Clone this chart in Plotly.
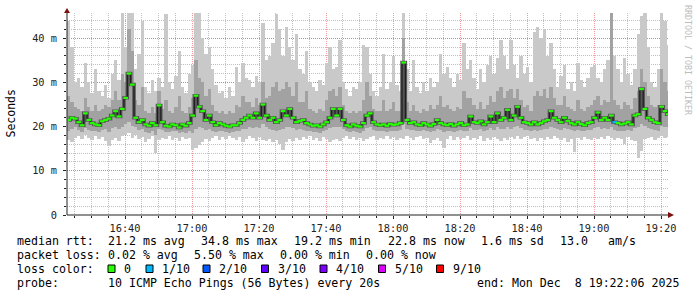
import plotly.graph_objects as go
import pandas as pd

# ---------------- data (1-minute steps) ----------------
STEP_START = "2025-12-08 16:23:11"          # centre of first step
X_RANGE = ["2025-12-08 16:22:41", "2025-12-08 19:22:05"]
Y_MAX = 45.7                                 # ms

med = [
    21.5, 22.0, 21.8, 21.0, 20.3, 23.0, 21.5, 20.8, 20.5, 20.3,
    21.2, 21.5, 21.8, 22.5, 23.5, 22.3, 24.0, 26.5, 32.0, 29.5,
    22.0, 21.0, 21.5, 20.5, 20.2, 20.8, 20.3, 24.8, 21.0, 20.2,
    20.0, 20.5, 20.3, 19.8, 20.5, 20.2, 20.8, 22.5, 27.0, 24.5,
    23.5, 21.5, 22.5, 21.0, 20.3, 20.8, 20.5, 20.2, 20.0, 20.3,
    20.3, 20.8, 21.5, 22.0, 22.5, 22.0, 23.0, 22.0, 25.0, 22.5,
    21.5, 22.0, 21.0, 21.5, 23.5, 22.5, 24.0, 22.0, 21.0, 21.3,
    21.5, 20.8, 20.5, 20.2, 20.3, 20.0, 20.5, 21.0, 22.0, 24.0,
    22.5, 24.0, 21.5, 20.3, 20.0, 20.5, 20.2, 20.0, 20.8, 22.5,
    23.0, 21.0, 20.5, 20.3, 20.5, 20.2, 20.6, 20.4, 20.5, 20.8,
    34.5, 21.5, 20.8, 21.0, 20.5, 20.3, 20.8, 20.5, 20.2, 20.6,
    21.5, 20.8, 20.5, 20.3, 20.6, 20.2, 20.5, 20.8, 20.3, 20.5,
    22.3, 21.0, 20.8, 21.2, 20.5, 21.0, 22.3, 21.0, 23.0, 21.5,
    22.0, 23.8, 21.5, 22.5, 24.5, 22.0, 21.0, 20.8, 20.5, 21.0,
    20.5, 20.8, 21.2, 21.5, 23.5, 22.0, 21.5, 21.0, 22.0, 21.3,
    20.8, 20.5, 21.0, 20.6, 20.3, 20.8, 21.0, 22.0, 23.2, 21.5,
    22.0, 21.5, 22.5, 21.0, 20.8, 20.5, 20.7, 21.0, 20.5, 22.5,
    22.8, 28.5, 24.0, 22.0, 21.5, 21.0, 20.8, 24.5, 23.5, 22.8,
]
hi = [
    44.0, 38.0, 30.0, 31.0, 29.0, 34.5, 30.0, 27.5, 33.0, 28.0,
    27.0, 29.5, 26.5, 32.0, 35.0, 30.5, 46.0, 38.0, 46.0, 46.0,
    33.0, 36.5, 44.0, 29.0, 27.5, 30.5, 28.0, 31.0, 29.0, 45.5,
    30.0, 28.5, 31.5, 37.0, 29.0, 27.5, 32.0, 34.0, 46.0, 46.0,
    40.0, 36.5, 38.0, 33.0, 29.5, 27.5, 28.0, 26.5, 29.0, 27.0,
    33.5, 30.0, 34.5, 31.0, 30.5, 29.0, 31.5, 30.0, 43.5, 35.0,
    36.0, 39.0, 45.5, 42.0, 36.0, 42.5, 38.0, 35.0, 41.0, 33.0,
    32.0, 37.0, 30.0, 29.0, 28.0, 30.5, 29.5, 34.5, 38.0, 33.0,
    33.5, 39.5, 30.0, 28.5, 27.0, 29.0, 28.5, 30.0, 38.5, 38.0,
    32.0, 28.0, 27.0, 29.0, 36.5, 28.5, 30.0, 36.0, 29.5, 28.0,
    46.0, 33.0, 28.0, 35.0, 29.0, 27.5, 30.0, 28.0, 31.0, 29.0,
    30.0, 36.5, 32.0, 33.5, 31.0, 29.0, 32.0, 30.5, 39.0, 33.0,
    35.0, 31.0, 28.5, 33.0, 30.0, 34.0, 36.0, 32.0, 35.5, 39.5,
    36.0, 33.0, 39.5, 34.0, 31.0, 36.0, 32.0, 33.5, 30.0, 41.5,
    42.5, 40.0, 42.0, 36.0, 39.0, 33.0, 29.0, 31.5, 34.0, 28.5,
    30.0, 28.0, 34.5, 30.5, 29.0, 31.0, 33.5, 34.0, 31.0, 30.0,
    33.0, 35.0, 46.0, 36.0, 33.0, 30.0, 35.5, 32.0, 29.5, 33.0,
    41.0, 45.0, 46.0, 38.0, 30.0, 29.0, 33.0, 46.0, 44.0, 38.5,
]
mhi = [
    27.0, 25.5, 24.5, 24.0, 23.5, 26.5, 24.5, 23.5, 25.0, 23.5,
    24.0, 25.0, 24.5, 26.0, 28.0, 26.0, 32.0, 30.0, 42.0, 37.0,
    26.0, 25.0, 29.0, 23.5, 23.0, 24.5, 23.0, 28.0, 24.0, 26.0,
    23.5, 23.0, 24.5, 27.0, 23.5, 23.0, 24.5, 26.5, 35.0, 31.0,
    30.0, 27.0, 28.5, 25.0, 23.5, 23.0, 23.5, 22.8, 23.5, 23.0,
    25.0, 24.5, 27.0, 25.5, 25.5, 24.5, 26.5, 25.0, 30.0, 26.5,
    27.0, 29.0, 30.0, 28.0, 28.5, 30.0, 29.0, 27.0, 30.0, 25.5,
    25.5, 28.0, 24.0, 23.5, 23.0, 24.0, 23.5, 26.0, 28.0, 28.5,
    27.0, 29.0, 25.0, 23.5, 23.0, 23.5, 23.0, 23.5, 26.0, 30.0,
    27.0, 24.0, 23.5, 23.5, 26.0, 23.5, 24.0, 25.5, 23.5, 23.5,
    40.0, 25.5, 23.5, 25.0, 23.5, 23.0, 24.0, 23.5, 25.0, 24.0,
    25.0, 27.0, 24.5, 25.0, 24.0, 23.5, 24.5, 24.0, 28.0, 26.5,
    26.5, 25.0, 24.0, 25.5, 24.0, 25.0, 27.0, 25.5, 28.0, 29.0,
    26.5, 28.0, 28.5, 26.5, 28.5, 26.0, 24.5, 25.0, 23.5, 27.0,
    28.0, 27.0, 28.5, 26.5, 29.0, 26.5, 25.0, 25.0, 27.0, 24.5,
    24.0, 23.5, 26.0, 24.0, 23.5, 24.5, 25.0, 26.0, 27.0, 25.0,
    26.0, 25.5, 46.0, 26.0, 25.0, 24.0, 25.5, 25.0, 24.0, 26.5,
    28.0, 33.0, 30.0, 27.0, 25.0, 24.5, 25.0, 33.0, 30.0, 28.0,
]
mlo = [
    19.0, 19.5, 19.8, 19.2, 18.8, 19.6, 19.3, 18.9, 19.0, 18.7,
    19.2, 19.4, 18.8, 19.6, 19.8, 19.4, 20.0, 20.5, 21.0, 20.2,
    19.8, 19.2, 19.5, 18.8, 18.6, 19.0, 18.0, 19.5, 19.2, 18.8,
    18.7, 18.9, 19.0, 18.5, 18.8, 18.6, 19.0, 18.5, 19.5, 19.8,
    19.6, 19.2, 19.5, 19.0, 18.8, 19.0, 18.9, 18.7, 18.6, 18.8,
    18.9, 19.1, 19.4, 19.5, 19.8, 19.6, 20.0, 19.6, 20.5, 19.8,
    19.5, 19.3, 19.0, 19.2, 19.5, 19.8, 20.0, 19.6, 19.2, 19.4,
    19.3, 19.0, 18.9, 18.7, 18.8, 18.6, 18.9, 19.2, 19.6, 20.0,
    19.8, 20.0, 19.4, 18.9, 18.7, 18.9, 18.8, 18.6, 19.0, 19.6,
    19.8, 19.2, 19.0, 18.9, 19.0, 18.8, 19.0, 18.9, 19.0, 19.2,
    20.5, 19.4, 19.2, 19.3, 19.0, 18.9, 19.2, 19.0, 18.8, 19.1,
    19.4, 19.2, 18.8, 18.9, 19.0, 18.8, 19.0, 19.2, 18.9, 19.0,
    19.6, 19.3, 19.2, 19.4, 19.0, 19.3, 19.6, 19.3, 19.8, 19.4,
    19.5, 20.0, 19.5, 19.8, 20.2, 19.6, 19.3, 19.2, 19.0, 19.3,
    19.0, 19.2, 19.4, 19.5, 20.0, 19.6, 19.4, 19.3, 19.6, 19.4,
    19.2, 19.0, 19.3, 19.1, 18.9, 19.2, 19.3, 19.6, 19.8, 19.4,
    19.6, 19.4, 19.8, 19.2, 19.1, 18.9, 19.0, 19.2, 18.9, 19.6,
    19.8, 20.5, 20.2, 19.6, 19.4, 19.2, 19.1, 20.2, 20.0, 19.8,
]
lo = [
    17.0, 16.5, 17.5, 17.8, 17.2, 18.0, 17.5, 17.0, 17.8, 17.3,
    17.6, 16.8, 15.5, 17.0, 17.5, 16.8, 17.8, 18.0, 18.5, 17.5,
    18.0, 17.2, 17.6, 16.5, 17.3, 17.8, 14.0, 17.0, 17.5, 17.2,
    17.8, 17.0, 17.5, 16.8, 17.6, 17.2, 17.5, 14.8, 15.2, 15.8,
    16.5, 17.2, 16.8, 17.5, 17.8, 17.0, 17.6, 17.3, 17.8, 17.4,
    17.0, 17.6, 16.5, 17.2, 17.8, 17.5, 16.8, 17.6, 17.0, 16.8,
    17.3, 16.5, 17.0, 16.0, 14.8, 16.5, 17.2, 16.8, 17.5, 17.0,
    17.6, 17.2, 17.8, 17.0, 17.5, 16.8, 17.6, 17.2, 16.5, 17.0,
    17.3, 16.8, 17.5, 17.8, 17.2, 17.6, 17.0, 17.5, 16.8, 17.2,
    17.6, 17.8, 17.0, 17.5, 17.2, 17.8, 17.3, 17.6, 17.0, 17.5,
    17.2, 17.8, 17.4, 17.0, 17.6, 17.8, 17.2, 17.5, 16.2, 17.0,
    17.5, 16.8, 15.2, 17.3, 17.8, 17.0, 17.6, 17.2, 17.5, 17.8,
    17.0, 17.5, 17.2, 17.8, 16.8, 17.4, 17.0, 17.6, 17.3, 16.8,
    17.5, 17.0, 17.6, 17.2, 17.8, 17.3, 17.6, 17.8, 17.2, 17.5,
    16.8, 17.4, 17.0, 17.6, 17.2, 17.8, 17.4, 17.0, 17.5, 16.5,
    17.2, 14.2, 17.5, 17.0, 17.6, 17.3, 17.0, 17.5, 17.2, 17.6,
    17.3, 17.8, 17.4, 17.0, 17.5, 17.2, 16.0, 17.6, 17.0, 16.8,
    13.0, 14.5, 17.2, 17.5, 17.6, 17.0, 17.5, 17.8, 17.4, 17.6,
]
# lost pings (out of 10) per step
loss = [
    0, 0, 0, 0, 0, 0, 0, 0, 0, 0,
    0, 0, 0, 0, 0, 0, 0, 0, 0, 0,
    0, 0, 0, 0, 0, 0, 0, 0, 0, 0,
    0, 0, 0, 0, 0, 0, 0, 0, 0, 0,
    0, 0, 0, 0, 0, 0, 0, 0, 0, 0,
    0, 0, 0, 0, 0, 0, 0, 0, 0, 0,
    0, 0, 0, 0, 0, 0, 0, 0, 0, 0,
    0, 0, 0, 0, 0, 0, 0, 0, 0, 0,
    0, 0, 0, 0, 0, 0, 0, 0, 0, 0,
    0, 0, 0, 0, 0, 0, 0, 0, 0, 0,
    0, 0, 0, 0, 0, 0, 0, 0, 0, 0,
    0, 0, 0, 0, 0, 0, 0, 0, 0, 0,
    0, 0, 0, 0, 0, 0, 0, 0, 0, 0,
    0, 0, 0, 0, 0, 0, 0, 0, 0, 0,
    0, 0, 0, 0, 0, 0, 0, 0, 0, 0,
    0, 0, 0, 0, 0, 0, 0, 0, 0, 0,
    0, 0, 0, 1, 0, 0, 0, 0, 0, 0,
    0, 0, 0, 0, 0, 0, 0, 0, 0, 0,
]

y_tickvals = [0, 10, 20, 30, 40]
y_ticktext = ["0", "10 m", "20 m", "30 m", "40 m"]

loss_levels = [0, 1, 2, 3, 4, 5, 9]
loss_labels = ["0", "1/10", "2/10", "3/10", "4/10", "5/10", "9/10"]
loss_colors = ["#26ff00", "#00b8ff", "#0059ff", "#5e00ff", "#7e00ff", "#dd00ff", "#ff0000"]

rtt_stats = ["21.2 ms avg", "34.8 ms max", "19.2 ms min", "22.8 ms now", "1.6 ms sd", "13.0", "am/s"]
loss_stats = ["0.02 % avg", "5.50 % max", "0.00 % min", "0.00 % now"]
probe_text = "10 ICMP Echo Pings (56 Bytes) every 20s"
end_text = "end: Mon Dec  8 19:22:06 2025"

# ---------------- layout geometry (pixels) ----------------
W, H = 697, 297
L, R, T, B = 67, 668, 13, 215
MONO = "DejaVu Sans Mono"


def px(x):
    return (x - L) / (R - L)


def py(y):
    return (B - y) / (B - T)


times = pd.date_range(STEP_START, periods=len(med), freq="1min")
color_of = dict(zip(loss_levels, loss_colors))
med_colors = [color_of[v] for v in loss]

fig = go.Figure()
fig.add_trace(go.Bar(x=times, base=lo, y=[h - l for h, l in zip(hi, lo)],
                     width=60000, marker=dict(color="#c9c9c9", line=dict(width=0)),
                     hoverinfo="skip"))
fig.add_trace(go.Bar(x=times, base=mlo, y=[h - l for h, l in zip(mhi, mlo)],
                     width=60000, marker=dict(color="#a2a2a2", line=dict(width=0)),
                     hoverinfo="skip"))
fig.add_trace(go.Scatter(x=times, y=med, mode="lines",
                         line=dict(color="#555555", width=3.5, shape="hvh"),
                         hoverinfo="skip"))
fig.add_trace(go.Scatter(x=times, y=med, mode="lines",
                         line=dict(color="#1e1e1e", width=1.2, shape="hvh"),
                         hoverinfo="skip"))
fig.add_trace(go.Scatter(x=times, y=med, mode="markers",
                         marker=dict(symbol="line-ew", size=3.4, color=med_colors,
                                     line=dict(width=2.2, color=med_colors)),
                         hoverinfo="skip"))

minor_grid = "rgba(150,150,150,0.6)"
major_grid = "rgba(230,90,90,0.6)"

fig.update_layout(
    width=W, height=H,
    margin=dict(l=L, r=W - R, t=T, b=H - B, autoexpand=False),
    paper_bgcolor="white", plot_bgcolor="white",
    showlegend=False, barmode="overlay", bargap=0,
    xaxis=dict(type="date", range=X_RANGE, tickformat="%H:%M",
               tick0="2025-12-08 16:40:00", dtick=1200000,
               showgrid=True, gridcolor=major_grid, griddash="1px,1px", gridwidth=1,
               minor=dict(tick0="2025-12-08 16:40:00", dtick=300000, showgrid=True,
                          gridcolor=minor_grid, griddash="1px,1px", gridwidth=1,
                          ticks="outside", ticklen=2, tickcolor="#222"),
               ticks="outside", ticklen=3, tickcolor="#222",
               showline=False, zeroline=False,
               tickfont=dict(family=MONO, size=10.3, color="#222"),
               ticklabelstandoff=1),
    yaxis=dict(range=[0, Y_MAX], tickvals=y_tickvals, ticktext=y_ticktext,
               showgrid=True, gridcolor=major_grid, griddash="1px,1px", gridwidth=1,
               minor=dict(dtick=2, showgrid=True, gridcolor=minor_grid,
                          griddash="1px,1px", gridwidth=1,
                          ticks="outside", ticklen=2, tickcolor="#222"),
               ticks="outside", ticklen=3, tickcolor="#222",
               showline=False, zeroline=False,
               tickfont=dict(family=MONO, size=10.3, color="#222"),
               ticklabelstandoff=4),
)

ann = []


def text(x, y, s, size=11.6, color="#000", anchor="left", angle=0):
    ann.append(dict(x=px(x), y=py(y), xref="paper", yref="paper", text=s.replace(" ", "\u00a0"),
                    showarrow=False, xanchor=anchor, yanchor="middle", borderpad=0,
                    textangle=angle, font=dict(family=MONO, size=size, color=color)))


# axis title and credit
text(10.5, 114, "Seconds", size=11.5, anchor="center", angle=-90)
text(688, 60, "RRDTOOL / TOBI OETIKER", size=8.3, color="#bdbdbd", anchor="center", angle=90)

# legend lines
row_y = [241, 255, 268.5, 283]
text(16, row_y[0], "median rtt:")
for x, s in zip([107, 200, 293, 386.5, 480, 558.5, 606.5], rtt_stats):
    text(x, row_y[0], s)
text(16, row_y[1], "packet loss:")
for x, s in zip([107, 193.3, 279.3, 365], loss_stats):
    text(x, row_y[1], s)
text(16, row_y[2], "loss color:")
box_x = [108, 146, 203, 261.5, 320, 378.5, 436.5]
shapes = []
for x, lab, col in zip(box_x, loss_labels, loss_colors):
    shapes.append(dict(type="rect", xref="paper", yref="paper",
                       x0=px(x), x1=px(x + 7), y0=py(272.5), y1=py(265),
                       fillcolor=col, line=dict(color="#000", width=1)))
    text(x + 15.3, row_y[2], lab)
text(16, row_y[3], "probe:")
text(107, row_y[3], probe_text)
text(680, row_y[3], end_text, anchor="right")

# axis lines (drawn above the smoke) and arrows
axis_col = "#222"
shapes.append(dict(type="line", xref="paper", yref="paper", x0=0, x1=1, y0=0, y1=0,
                   line=dict(color=axis_col, width=1), layer="above"))
shapes.append(dict(type="line", xref="paper", yref="paper", x0=0, x1=0, y0=0, y1=1,
                   line=dict(color=axis_col, width=1), layer="above"))
arrow = "#7f1010"
shapes.append(dict(type="path", xref="paper", yref="paper", xsizemode="pixel", ysizemode="pixel",
                   xanchor=1, yanchor=0, path="M 0,-3 L 6,0 L 0,3 Z",
                   fillcolor=arrow, line=dict(color=arrow, width=0)))
shapes.append(dict(type="path", xref="paper", yref="paper", xsizemode="pixel", ysizemode="pixel",
                   xanchor=0, yanchor=1, path="M -3,0 L 3,0 L 0,5 Z",
                   fillcolor=arrow, line=dict(color=arrow, width=0)))

fig.update_layout(annotations=ann, shapes=shapes)
fig.write_html("out.html")
